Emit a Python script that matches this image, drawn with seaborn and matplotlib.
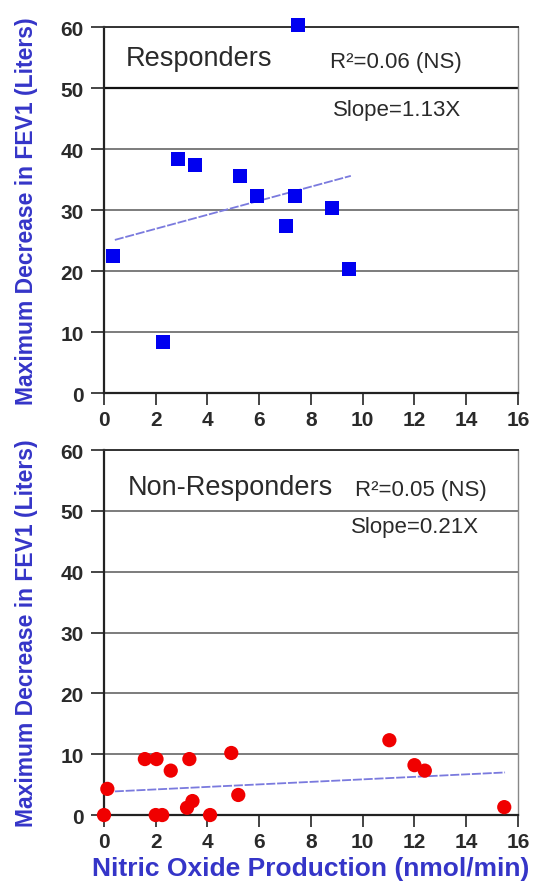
import matplotlib
matplotlib.use("Agg")
import matplotlib.pyplot as plt
import pandas as pd
import seaborn as sns

# Responders (blue squares)
resp_x = [7.49, 2.86, 3.51, 5.25, 5.91, 7.37, 8.8, 7.03, 0.36, 9.46, 2.27]
resp_y = [60.3, 38.4, 37.4, 35.6, 32.3, 32.3, 30.3, 27.4, 22.5, 20.3, 8.4]
resp_fit_x = [0.42, 9.54]
resp_fit_y = [25.1, 35.6]

# Non-responders (red circles)
nonresp_x = [0.0, 0.13, 1.58, 2.03, 2.58, 3.3, 4.92, 2.0, 2.25, 3.21, 3.42,
             4.1, 5.19, 11.03, 12.0, 12.4, 15.47]
nonresp_y = [0.0, 4.3, 9.2, 9.2, 7.3, 9.2, 10.2, 0.0, 0.0, 1.2, 2.3,
             0.0, 3.3, 12.3, 8.2, 7.3, 1.3]
nonresp_fit_x = [0.0, 15.5]
nonresp_fit_y = [3.8, 7.0]

x_ticks = [0, 2, 4, 6, 8, 10, 12, 14, 16]
y_ticks = [0, 10, 20, 30, 40, 50, 60]

panel_titles = ["Responders", "Non-Responders"]
r2_labels = ["R\u00b2=0.06 (NS)", "R\u00b2=0.05 (NS)"]
slope_labels = ["Slope=1.13X", "Slope=0.21X"]

sns.set_style("white")
plt.rcParams["font.family"] = ["Liberation Sans", "DejaVu Sans"]

label_color = "#3535c8"
fig = plt.figure(figsize=(5.43, 8.87), dpi=100)
ax_top = fig.add_axes([0.1915, 0.5558, 0.7624, 0.4126])
ax_bot = fig.add_axes([0.1915, 0.0800, 0.7624, 0.4115])

resp = pd.DataFrame({"x": resp_x, "y": resp_y})
nonresp = pd.DataFrame({"x": nonresp_x, "y": nonresp_y})

sns.lineplot(x=resp_fit_x, y=resp_fit_y, ax=ax_top, color="#7a7ade", lw=1.3,
             linestyle=(0, (5, 1)), zorder=2)
sns.scatterplot(data=resp, x="x", y="y", ax=ax_top, marker="s", s=100,
                color="#0000f0", edgecolor="none", zorder=3, clip_on=False)

sns.lineplot(x=nonresp_fit_x, y=nonresp_fit_y, ax=ax_bot, color="#7a7ade", lw=1.3,
             linestyle=(0, (5, 1)), zorder=2)
sns.scatterplot(data=nonresp, x="x", y="y", ax=ax_bot, marker="o", s=105,
                color="#f00000", edgecolor="none", zorder=3, clip_on=False)

title_pos = [(0.053, 0.915), (0.057, 0.898)]
r2_pos = [(0.546, 0.905), (0.606, 0.892)]
slope_pos = [(0.553, 0.776), (0.597, 0.790)]

for i, ax in enumerate([ax_top, ax_bot]):
    ax.set_xlim(0, 16)
    ax.set_ylim(0, 60)
    ax.set_xticks(x_ticks)
    ax.set_yticks(y_ticks)
    ax.yaxis.grid(True, color="#666666", lw=1.2)
    ax.xaxis.grid(False)
    ax.set_axisbelow(True)
    for side in ["left", "bottom"]:
        ax.spines[side].set_color("#222222")
        ax.spines[side].set_linewidth(1.6)
    ax.spines["top"].set_color("#333333")
    ax.spines["top"].set_linewidth(1.4)
    ax.spines["right"].set_color("#888888")
    ax.spines["right"].set_linewidth(1.0)
    ax.tick_params(axis="y", direction="out", length=9.5, width=1.4, color="#444444",
                   left=True, labelsize=15, labelcolor="#2a2a2a", pad=5)
    ax.tick_params(axis="x", direction="out", length=8.5, width=1.4, color="#444444",
                   bottom=True, labelsize=15, labelcolor="#2a2a2a", pad=4)
    for lab in ax.get_xticklabels() + ax.get_yticklabels():
        lab.set_fontweight("bold")
    ax.set_ylabel("Maximum Decrease in FEV1 (Liters)", color=label_color,
                  fontsize=16.5, fontweight="bold", labelpad=16)
    ax.set_xlabel("")
    ax.text(*title_pos[i], panel_titles[i], transform=ax.transAxes,
            fontsize=19.5, color="#2a2a2a", va="center")
    ax.text(*r2_pos[i], r2_labels[i], transform=ax.transAxes,
            fontsize=16, color="#2a2a2a", va="center")
    ax.text(*slope_pos[i], slope_labels[i], transform=ax.transAxes,
            fontsize=16, color="#2a2a2a", va="center")

ax_top.yaxis.get_gridlines()[5].set_color("#111111")
ax_top.yaxis.get_gridlines()[5].set_linewidth(1.6)

ax_bot.set_xlabel("Nitric Oxide Production (nmol/min)", color=label_color,
                  fontsize=19, fontweight="bold", labelpad=3)

fig.savefig("out.png", dpi=100)
